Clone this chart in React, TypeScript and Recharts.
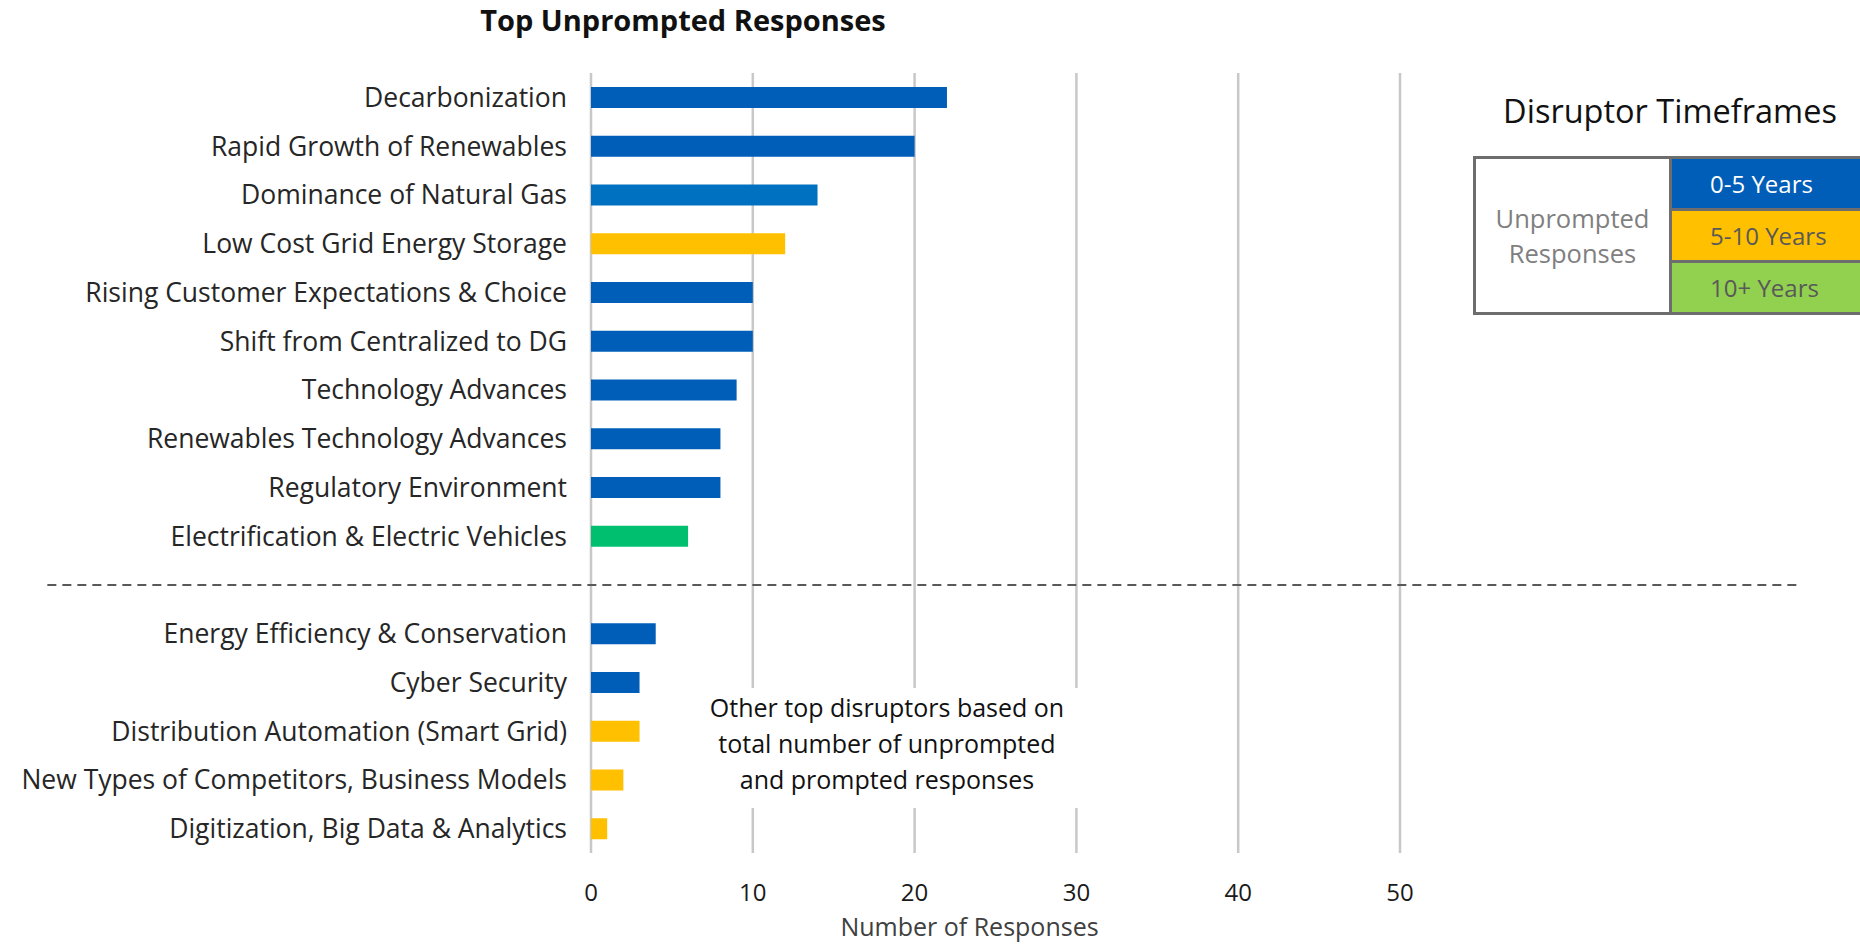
import { BarChart, Bar, XAxis, YAxis, CartesianGrid, Cell, ReferenceLine } from 'recharts';

// Disruptor categories, top to bottom ('' is the gap slot under the dashed separator)
const CATEGORIES = [
  'Decarbonization',
  'Rapid Growth of Renewables',
  'Dominance of Natural Gas',
  'Low Cost Grid Energy Storage',
  'Rising Customer Expectations & Choice',
  'Shift from Centralized to DG',
  'Technology Advances',
  'Renewables Technology Advances',
  'Regulatory Environment',
  'Electrification & Electric Vehicles',
  '',
  'Energy Efficiency & Conservation',
  'Cyber Security',
  'Distribution Automation (Smart Grid)',
  'New Types of Competitors, Business Models',
  'Digitization, Big Data & Analytics',
];

const RESPONSES = [22, 20, 14, 12, 10, 10, 9, 8, 8, 6, null, 4, 3, 3, 2, 1];

const BAR_COLORS = [
  '#005EB8', '#005EB8', '#0070C0', '#FFC000', '#005EB8', '#005EB8', '#005EB8', '#005EB8',
  '#005EB8', '#00C070', '#ffffff', '#005EB8', '#005EB8', '#FFC000', '#FFC000', '#FFC000',
];

const X_TICKS = [0, 10, 20, 30, 40, 50];

const LEGEND_ROWS = ['0-5 Years', '5-10 Years', '10+ Years'];
const LEGEND_COLORS = ['#005EB8', '#FFC000', '#92D050'];
const LEGEND_TEXT = ['#ffffff', '#595959', '#595959'];

const FONT = '"Open Sans", sans-serif';

export default function App() {
  const data = CATEGORIES.map((name, i) => ({ name, value: RESPONSES[i] }));

  return (
    <div style={{ position: 'absolute', left: 0, top: 0, width: 1860, height: 944, background: '#fff', fontFamily: FONT, overflow: 'hidden' }}>
      <div
        style={{
          position: 'absolute',
          left: 383,
          top: 0,
          width: 600,
          textAlign: 'center',
          fontSize: 29,
          fontWeight: 700,
          color: '#111',
        }}
      >
        Top Unprompted Responses
      </div>

      <BarChart
        width={1860}
        height={944}
        data={data}
        layout="vertical"
        margin={{ top: 73, right: 460, bottom: 0, left: 0 }}
        barCategoryGap={0}
      >
        <CartesianGrid horizontal={false} stroke="#c8c8c8" strokeWidth={2.5} />
        <XAxis
          type="number"
          domain={[0, 50]}
          ticks={X_TICKS}
          axisLine={false}
          tickLine={false}
          tickSize={0}
          tickMargin={31}
          height={91}
          tick={{ fontSize: 24, fill: '#1a1a1a', fontFamily: FONT }}
          label={{
            value: 'Number of Responses',
            position: 'insideBottom',
            offset: 8,
            dx: -26,
            style: { fontSize: 25, fill: '#404040', fontFamily: FONT },
          }}
        />
        <YAxis
          type="category"
          dataKey="name"
          width={591}
          axisLine={false}
          tickLine={false}
          tickSize={0}
          tickMargin={24}
          interval={0}
          tick={{ fontSize: 26.5, fill: '#262626', fontFamily: FONT }}
        />
        <ReferenceLine
          ifOverflow="visible"
          segment={[
            { x: -33.6, y: '' },
            { x: 74.8, y: '' },
          ]}
          stroke="#595959"
          strokeWidth={2}
          strokeDasharray="9 6"
        />
        <Bar dataKey="value" barSize={21} isAnimationActive={false}>
          {data.map((_, i) => (
            <Cell key={`cell-${i}`} fill={BAR_COLORS[i]} />
          ))}
        </Bar>
      </BarChart>

      {/* annotation box, sits over the gridlines */}
      <div
        style={{
          position: 'absolute',
          left: 690,
          top: 688,
          width: 394,
          height: 120,
          background: '#fff',
          textAlign: 'center',
          fontSize: 25,
          lineHeight: '36px',
          color: '#111',
          paddingTop: 1,
          boxSizing: 'border-box',
        }}
      >
        Other top disruptors based on
        <br />
        total number of unprompted
        <br />
        and prompted responses
      </div>

      {/* legend table */}
      <div
        style={{
          position: 'absolute',
          left: 1480,
          top: 88,
          width: 380,
          textAlign: 'center',
          fontSize: 32.5,
          color: '#111',
        }}
      >
        Disruptor Timeframes
      </div>
      <div
        style={{
          position: 'absolute',
          left: 1473,
          top: 156,
          width: 420,
          height: 159,
          border: '3px solid #6d6d6d',
          boxSizing: 'border-box',
          display: 'flex',
        }}
      >
        <div
          style={{
            width: 193,
            display: 'flex',
            alignItems: 'center',
            justifyContent: 'center',
            textAlign: 'center',
            fontSize: 25.5,
            lineHeight: '35px',
            color: '#7f7f7f',
            borderRight: '3px solid #6d6d6d',
          }}
        >
          Unprompted
          <br />
          Responses
        </div>
        <div style={{ flex: 1, display: 'flex', flexDirection: 'column' }}>
          {LEGEND_ROWS.map((row, i) => (
            <div
              key={row}
              style={{
                flex: 1,
                background: LEGEND_COLORS[i],
                color: LEGEND_TEXT[i],
                fontSize: 24,
                display: 'flex',
                alignItems: 'center',
                paddingLeft: 38,
                borderTop: i > 0 ? '3px solid #6d6d6d' : 'none',
              }}
            >
              {row}
            </div>
          ))}
        </div>
      </div>
    </div>
  );
}
